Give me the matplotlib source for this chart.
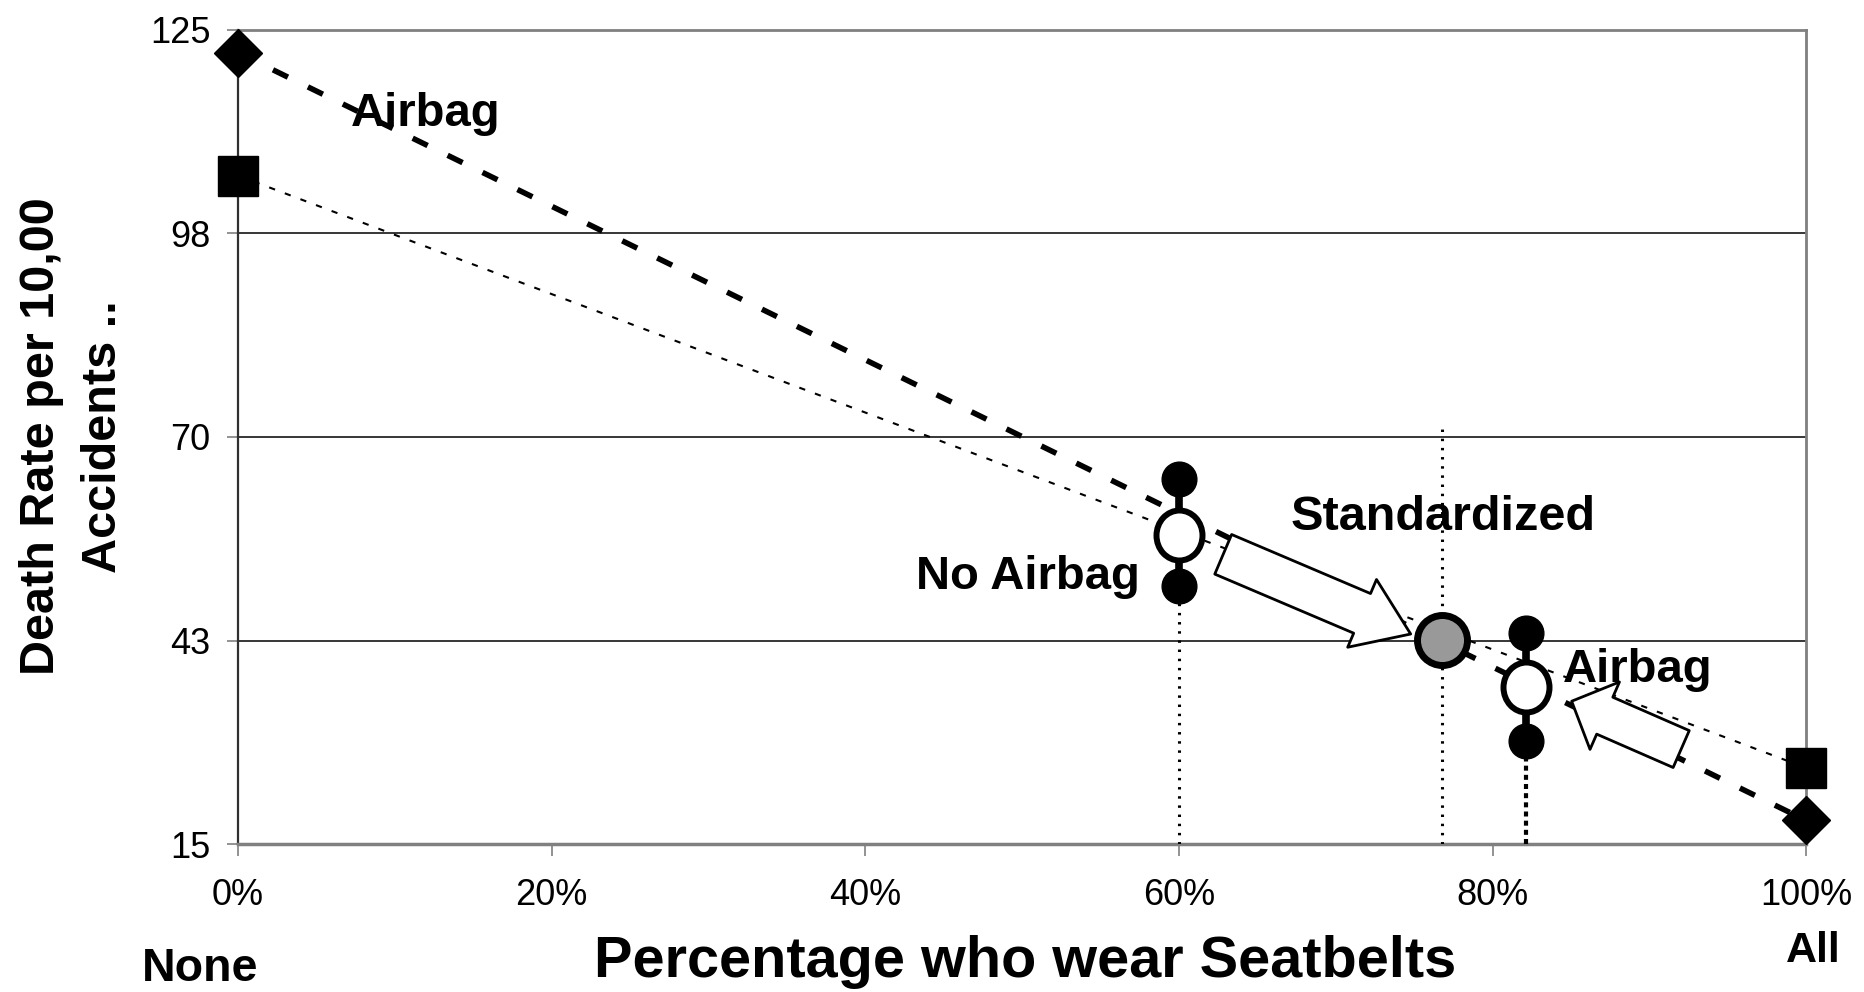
import matplotlib
matplotlib.use('Agg')
import matplotlib.pyplot as plt
from matplotlib.markers import MarkerStyle
from matplotlib.patches import FancyArrowPatch
from matplotlib.transforms import Affine2D

plt.rcParams['font.family'] = ['Liberation Sans', 'DejaVu Sans']

# data
pct = [0, 100]
airbag = [121.9, 18.2]
no_airbag = [105.3, 25.3]

group_x = [60, 82.1]
group_hi = [64.3, 43.5]
group_mid = [56.8, 36.2]
group_lo = [49.9, 28.9]
stand_x, stand_y = 76.8, 42.6
stand_top = 71.6

yticks = [15, 42.5, 70, 97.5, 125]
ylabels = ['15', '43', '70', '98', '125']
xticks = [0, 20, 40, 60, 80, 100]

fig = plt.figure(figsize=(18.64, 9.92), dpi=100)
ax = fig.add_axes([0.1277, 0.149, 0.8413, 0.821])

# gridlines
for v in yticks[1:-1]:
    ax.axhline(v, color='black', lw=1.1, zorder=1)

# the two trend lines
ax.plot(pct, airbag, color='black', lw=4, linestyle=(0, (3, 4)), zorder=2)
ax.plot(pct, no_airbag, color='black', lw=1.5, linestyle=(0, (3, 5)), zorder=2)
ax.plot(pct, airbag, 'D', color='black', ms=24, linestyle='none', zorder=6, clip_on=False)
ax.plot(pct, no_airbag, 's', color='black', ms=29, linestyle='none', zorder=6, clip_on=False)

# vertical drop lines
ax.plot([group_x[0]] * 2, [15, group_lo[0]], color='black', lw=2.2, linestyle=(0, (0.8, 2.2)), zorder=3)
ax.plot([stand_x] * 2, [15, stand_top], color='black', lw=2.2, linestyle=(0, (0.8, 2.2)), zorder=3)
ax.plot([group_x[1]] * 2, [15, group_lo[1]], color='black', lw=3, linestyle=(0, (1.2, 1)), zorder=3)

# range bars
ell = MarkerStyle('o', transform=Affine2D().scale(0.92, 1.0))
for x, hi, mid, lo in zip(group_x, group_hi, group_mid, group_lo):
    ax.plot([x, x], [lo, hi], color='black', lw=5.5, solid_capstyle='butt', zorder=4)
    ax.plot([x, x], [lo, hi], 'o', color='black', ms=25, zorder=5)
    ax.plot(x, mid, marker=ell, ms=36, mfc='white', mec='black', mew=4.3, zorder=6)

ax.plot(stand_x, stand_y, 'o', ms=36, mfc='#999999', mec='black', mew=5, zorder=8)

# block arrows
a1 = FancyArrowPatch((62.66, 54.3), (74.94, 43.24),
                     arrowstyle='simple,head_length=38,head_width=53,tail_width=31',
                     mutation_scale=1, fc='white', ec='black', lw=2, zorder=7)
a2 = FancyArrowPatch((92.19, 27.7), (84.88, 34.46),
                     arrowstyle='simple,head_length=26,head_width=53,tail_width=29',
                     mutation_scale=1, fc='white', ec='black', lw=2, zorder=7)
ax.add_patch(a1)
ax.add_patch(a2)

# labels inside the plot
ax.text(7.2, 112.0, 'Airbag', fontsize=34, fontweight='bold', va='baseline', zorder=1.5)
ax.text(57.5, 49.5, 'No Airbag', fontsize=34, fontweight='bold', ha='right', va='baseline')
ax.text(67.1, 57.4, 'Standardized', fontsize=35, fontweight='bold', va='baseline')
ax.text(84.5, 36.9, 'Airbag', fontsize=34, fontweight='bold', va='baseline', zorder=1.5)

ax.set_xlim(0, 100)
ax.set_ylim(15, 125)
ax.set_yticks(yticks)
ax.set_yticklabels(ylabels)
ax.set_xticks(xticks)
ax.set_xticklabels(['%d%%' % t for t in xticks])
ax.tick_params(axis='x', length=8.6, width=1.2, color='#808080', pad=16, labelsize=26)
ax.tick_params(axis='y', length=8, width=1.2, color='#808080', pad=12, labelsize=26)

for s in ['top', 'right', 'bottom']:
    ax.spines[s].set_color('#808080')
    ax.spines[s].set_linewidth(2)
ax.spines['bottom'].set_linewidth(2.5)
ax.spines['left'].set_color('#303030')
ax.spines['left'].set_linewidth(1.6)

fig.text(0.55, 0.03, 'Percentage who wear Seatbelts', fontsize=41.5, fontweight='bold',
         ha='center', va='center')
fig.text(200 / 1864, 1 - 969 / 992, 'None', fontsize=33.5, fontweight='bold',
         ha='center', va='center')
fig.text(1813 / 1864, 1 - 951 / 992, 'All', fontsize=31, fontweight='bold',
         ha='center', va='center')
fig.text(0.039, 0.56, 'Death Rate per 10,00\nAccidents ..', fontsize=35, fontweight='bold',
         rotation=90, ha='center', va='center', linespacing=1.5)

fig.savefig('out.png', dpi=100)
